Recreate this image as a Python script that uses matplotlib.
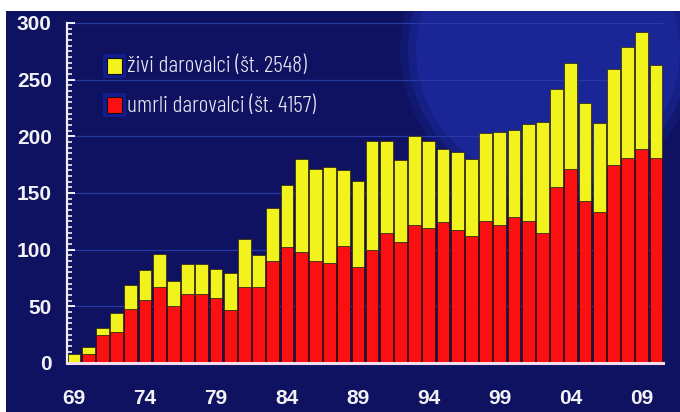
import numpy as np
import matplotlib
matplotlib.use("Agg")
import matplotlib.pyplot as plt
from matplotlib.patches import Rectangle, Ellipse
from matplotlib.ticker import MultipleLocator
from matplotlib.font_manager import FontProperties

# Donors per year, 1969-2010
years = np.arange(1969, 2011)
deceased = [0, 8, 25, 27, 48, 56, 67, 50, 61, 61, 57, 47, 67, 67, 90, 102, 98, 90,
            88, 103, 85, 100, 115, 107, 122, 119, 124, 117, 112, 125, 122, 129, 125,
            115, 155, 171, 143, 133, 175, 181, 189, 181]
living = [8, 6, 6, 17, 21, 26, 29, 22, 26, 26, 26, 32, 42, 28, 47, 55, 82, 81, 85,
          67, 76, 96, 81, 72, 78, 77, 65, 69, 68, 78, 82, 77, 86, 98, 87, 94, 86,
          79, 84, 98, 103, 82]
xtick_years = [1969, 1974, 1979, 1984, 1989, 1994, 1999, 2004, 2009]
xtick_labels = ["69", "74", "79", "84", "89", "94", "99", "04", "09"]
yticks = [0, 50, 100, 150, 200, 250, 300]

label_living = f"živi darovalci (št. {sum(living)})"
label_deceased = f"umrli darovalci (št. {sum(deceased)})"

W, H = 680, 412
NAVY = "#0e1260"
GLOW = "#1b2696"
YELLOW = "#f2f21c"
RED = "#fa1010"
TEXT = "#f2f2f6"

fig = plt.figure(figsize=(W / 100, H / 100), dpi=100)
fig.patch.set_facecolor("white")


def px(x, y):
    """Pixel position (from top-left) to figure fraction."""
    return x / W, 1 - y / H


# dark backdrop panel
panel = Rectangle(px(6, H), (W - 6) / W, (H - 11) / H, transform=fig.transFigure,
                  facecolor=NAVY, edgecolor="none", zorder=-3)
fig.patches.append(panel)

# soft lighter disc in the upper right
for r, a in [(148, 0.3), (140, 0.55), (132, 1.0)]:
    e = Ellipse(px(548, 50), 2 * r / W, 2 * r / H, transform=fig.transFigure,
                facecolor=GLOW, edgecolor="none", alpha=a, zorder=-2)
    fig.patches.append(e)
    e.set_clip_path(panel)

ax = fig.add_axes([67 / W, 49 / H, 596 / W, 340 / H])
ax.set_zorder(1)
ax.set_facecolor("none")

ax.bar(years, deceased, width=0.9, color=RED, edgecolor="#2a0808", linewidth=0.5, zorder=3)
ax.bar(years, living, bottom=deceased, width=0.9, color=YELLOW, edgecolor="#2a2008",
       linewidth=0.5, zorder=3)

ax.set_xlim(1968.5, 2010.5)
ax.set_ylim(0, 300)

for y in yticks[1:]:
    ax.axhline(y, color="#2a3aa4", linewidth=0.9, zorder=1)

for s in ["top", "right"]:
    ax.spines[s].set_visible(False)
ax.spines["left"].set_color("#eeeef8")
ax.spines["left"].set_linewidth(1.6)
ax.spines["bottom"].set_color("#f4dcef")
ax.spines["bottom"].set_linewidth(2.2)
ax.spines["bottom"].set_zorder(4)

ax.set_xticks(xtick_years)
ax.set_xticklabels(xtick_labels)
ax.set_yticks(yticks)
ax.yaxis.set_minor_locator(MultipleLocator(5))

lab_font = FontProperties(family=["Liberation Sans", "DejaVu Sans"], weight="bold", size=15)
for t in ax.get_xticklabels() + ax.get_yticklabels():
    t.set_fontproperties(lab_font)
    t.set_color(TEXT)

ax.tick_params(axis="x", length=0, pad=19)
ax.tick_params(axis="y", which="major", direction="in", length=6, width=1.4,
               color="#eeeef8", pad=11)
ax.tick_params(axis="y", which="minor", direction="in", length=3.5, width=1.2,
               color="#eeeef8")

# legend
leg_font = FontProperties(family=["Barlow Condensed", "DejaVu Sans"], weight=300, size=17)
for (y0, color, text) in [(58, YELLOW, label_living), (97, RED, label_deceased)]:
    halo = Rectangle(px(103, y0 + 20), 23 / W, 24 / H, transform=fig.transFigure,
                     facecolor="#1a2ac8", edgecolor="none", alpha=0.45, zorder=2)
    fig.patches.append(halo)
    sq = Rectangle(px(107, y0 + 16), 15 / W, 16 / H, transform=fig.transFigure,
                   facecolor=color, edgecolor="#101010", linewidth=0.8, zorder=3)
    fig.patches.append(sq)
    fig.text(*px(127, y0 + 9), text, color="#e8e8f2", fontproperties=leg_font,
             va="center", ha="left", zorder=4)

fig.savefig("out.png", dpi=100, facecolor=fig.get_facecolor())
